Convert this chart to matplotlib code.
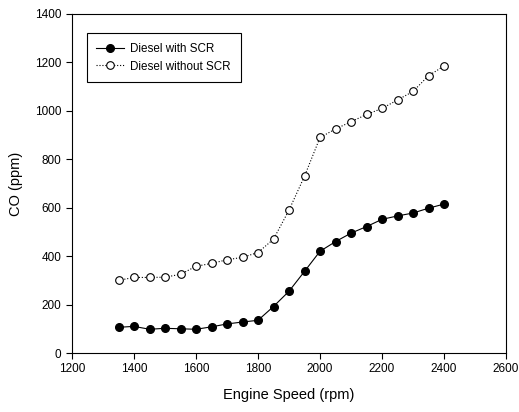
import matplotlib
matplotlib.use("Agg")
import matplotlib.pyplot as plt

plt.rcParams.update({
    "font.family": ["Liberation Sans", "DejaVu Sans"],
    "font.size": 9,
    "xtick.direction": "out",
    "ytick.direction": "out",
})

speed = [1350, 1400, 1450, 1500, 1550, 1600, 1650, 1700, 1750, 1800, 1850,
         1900, 1950, 2000, 2050, 2100, 2150, 2200, 2250, 2300, 2350, 2400]
co_with_scr = [106, 110, 98, 102, 100, 98, 108, 120, 128, 135, 192,
               255, 337, 420, 460, 495, 522, 552, 566, 578, 598, 615]
co_without_scr = [300, 312, 312, 313, 325, 358, 370, 385, 395, 415, 470,
                  590, 730, 890, 925, 955, 985, 1010, 1045, 1080, 1145, 1185]

fig = plt.figure(figsize=(5.19, 4.12), dpi=100)
ax = fig.add_axes([72 / 519, 1 - 353 / 412, (506 - 72) / 519, (353 - 14) / 412])

ax.plot(speed, co_with_scr, "-", color="black", lw=0.8, marker="o",
        ms=5.5, mfc="black", mec="black", label="Diesel with SCR")
ax.plot(speed, co_without_scr, ":", color="black", lw=0.8, marker="o",
        ms=5.5, mfc="white", mec="black", mew=0.8, label="Diesel without SCR")

ax.set_xlim(1200, 2600)
ax.set_ylim(0, 1400)
ax.set_xticks(range(1200, 2601, 200))
ax.set_yticks(range(0, 1401, 200))
ax.tick_params(length=4, width=0.8, labelsize=8.5)
for s in ax.spines.values():
    s.set_linewidth(0.8)

ax.set_xlabel("Engine Speed (rpm)", fontsize=10.5, labelpad=9)
ax.set_ylabel("CO (ppm)", fontsize=10.5, labelpad=9)

leg = ax.legend(loc="upper left", bbox_to_anchor=(0.02, 0.96), fancybox=False,
                edgecolor="black", framealpha=1, fontsize=8.4, handlelength=2.4,
                handletextpad=0.5, borderpad=0.85, labelspacing=0.45)
leg.get_frame().set_linewidth(0.8)

fig.savefig("out.png", dpi=100)
